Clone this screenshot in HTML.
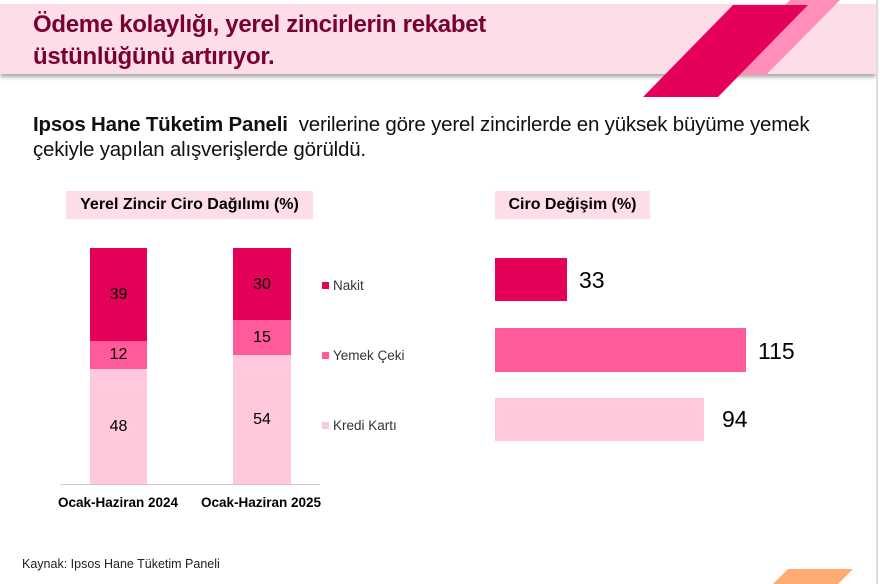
<!DOCTYPE html><html><head><style>
body{margin:0;width:880px;height:584px;background:#fff;position:relative;overflow:hidden;font-family:"Liberation Sans",sans-serif;}
.a{position:absolute}
</style></head><body>
<div class="a" style="left:0;top:4px;width:876px;height:70px;background:#fddde8;box-shadow:0 3px 4px rgba(0,0,0,0.35)"></div>
<div class="a" style="left:876px;top:0;width:2px;height:584px;background:#ddd"></div>
<svg class="a" style="left:0;top:0" width="880" height="584">
<polygon points="790,0 840,0 766,75 716,75" fill="#ff8fb8"/>
<polygon points="733,5 808,5 718,97 643,97" fill="#e5005a"/>
<polygon points="788,569 853,569 838,584 773,584" fill="#ffaa70"/>
</svg>
<div class="a" style="left:33px;top:9px;font-size:24px;font-weight:bold;color:#7a0030;line-height:32px;letter-spacing:-0.3px">Ödeme kolaylığı, yerel zincirlerin rekabet<br>üstünlüğünü artırıyor.</div>
<div class="a" style="left:33px;top:112px;font-size:20.5px;color:#111;line-height:25px;letter-spacing:-0.2px;white-space:nowrap"><b>Ipsos Hane Tüketim Paneli</b>&nbsp; verilerine göre yerel zincirlerde en yüksek büyüme yemek<br>çekiyle yapılan alışverişlerde görüldü.</div>
<div class="a" style="left:66px;top:191px;width:247px;height:28px;background:#fddde8;font-size:16px;font-weight:bold;line-height:28px;text-align:center">Yerel Zincir Ciro Dağılımı (%)</div>
<div class="a" style="left:495px;top:191px;width:155px;height:28px;background:#fddde8;font-size:16px;font-weight:bold;line-height:28px;text-align:center">Ciro Değişim (%)</div>
<div class="a" style="left:90px;top:248px;width:57px;height:93px;background:#e5005a"></div>
<div class="a" style="left:90px;top:341px;width:57px;height:28px;background:#ff5a9a"></div>
<div class="a" style="left:90px;top:369px;width:57px;height:115px;background:#ffc8dc"></div>
<div class="a" style="left:233px;top:248px;width:58px;height:72px;background:#e5005a"></div>
<div class="a" style="left:233px;top:320px;width:58px;height:35px;background:#ff5a9a"></div>
<div class="a" style="left:233px;top:355px;width:58px;height:129px;background:#ffc8dc"></div>
<div class="a" style="left:60px;top:484px;width:260px;height:1px;background:#ccc"></div>
<div class="a" style="left:90px;top:286px;width:57px;text-align:center;font-size:16px">39</div>
<div class="a" style="left:90px;top:346px;width:57px;text-align:center;font-size:16px">12</div>
<div class="a" style="left:90px;top:418px;width:57px;text-align:center;font-size:16px">48</div>
<div class="a" style="left:233px;top:276px;width:58px;text-align:center;font-size:16px">30</div>
<div class="a" style="left:233px;top:329px;width:58px;text-align:center;font-size:16px">15</div>
<div class="a" style="left:233px;top:411px;width:58px;text-align:center;font-size:16px">54</div>
<div class="a" style="left:48px;top:495px;width:140px;text-align:center;font-size:13.5px;font-weight:bold">Ocak-Haziran 2024</div>
<div class="a" style="left:191px;top:495px;width:140px;text-align:center;font-size:13.5px;font-weight:bold">Ocak-Haziran 2025</div>
<div class="a" style="left:322px;top:282px;width:7px;height:7px;background:#e5005a"></div>
<div class="a" style="left:333px;top:278px;font-size:13.5px;color:#333">Nakit</div>
<div class="a" style="left:322px;top:352px;width:7px;height:7px;background:#ff5a9a"></div>
<div class="a" style="left:333px;top:348px;font-size:13.5px;color:#333">Yemek Çeki</div>
<div class="a" style="left:322px;top:422px;width:7px;height:7px;background:#ffc8dc"></div>
<div class="a" style="left:333px;top:418px;font-size:13.5px;color:#333">Kredi Kartı</div>
<div class="a" style="left:495px;top:258px;width:72px;height:43px;background:#e5005a"></div>
<div class="a" style="left:495px;top:328px;width:251px;height:44px;background:#ff5a9a"></div>
<div class="a" style="left:495px;top:398px;width:209px;height:43px;background:#ffc8dc"></div>
<div class="a" style="left:579px;top:267px;font-size:23px">33</div>
<div class="a" style="left:758px;top:338px;font-size:23px">115</div>
<div class="a" style="left:722px;top:406px;font-size:23px">94</div>
<div class="a" style="left:22px;top:557px;font-size:12.5px;color:#222">Kaynak: Ipsos Hane Tüketim Paneli</div>
</body></html>
